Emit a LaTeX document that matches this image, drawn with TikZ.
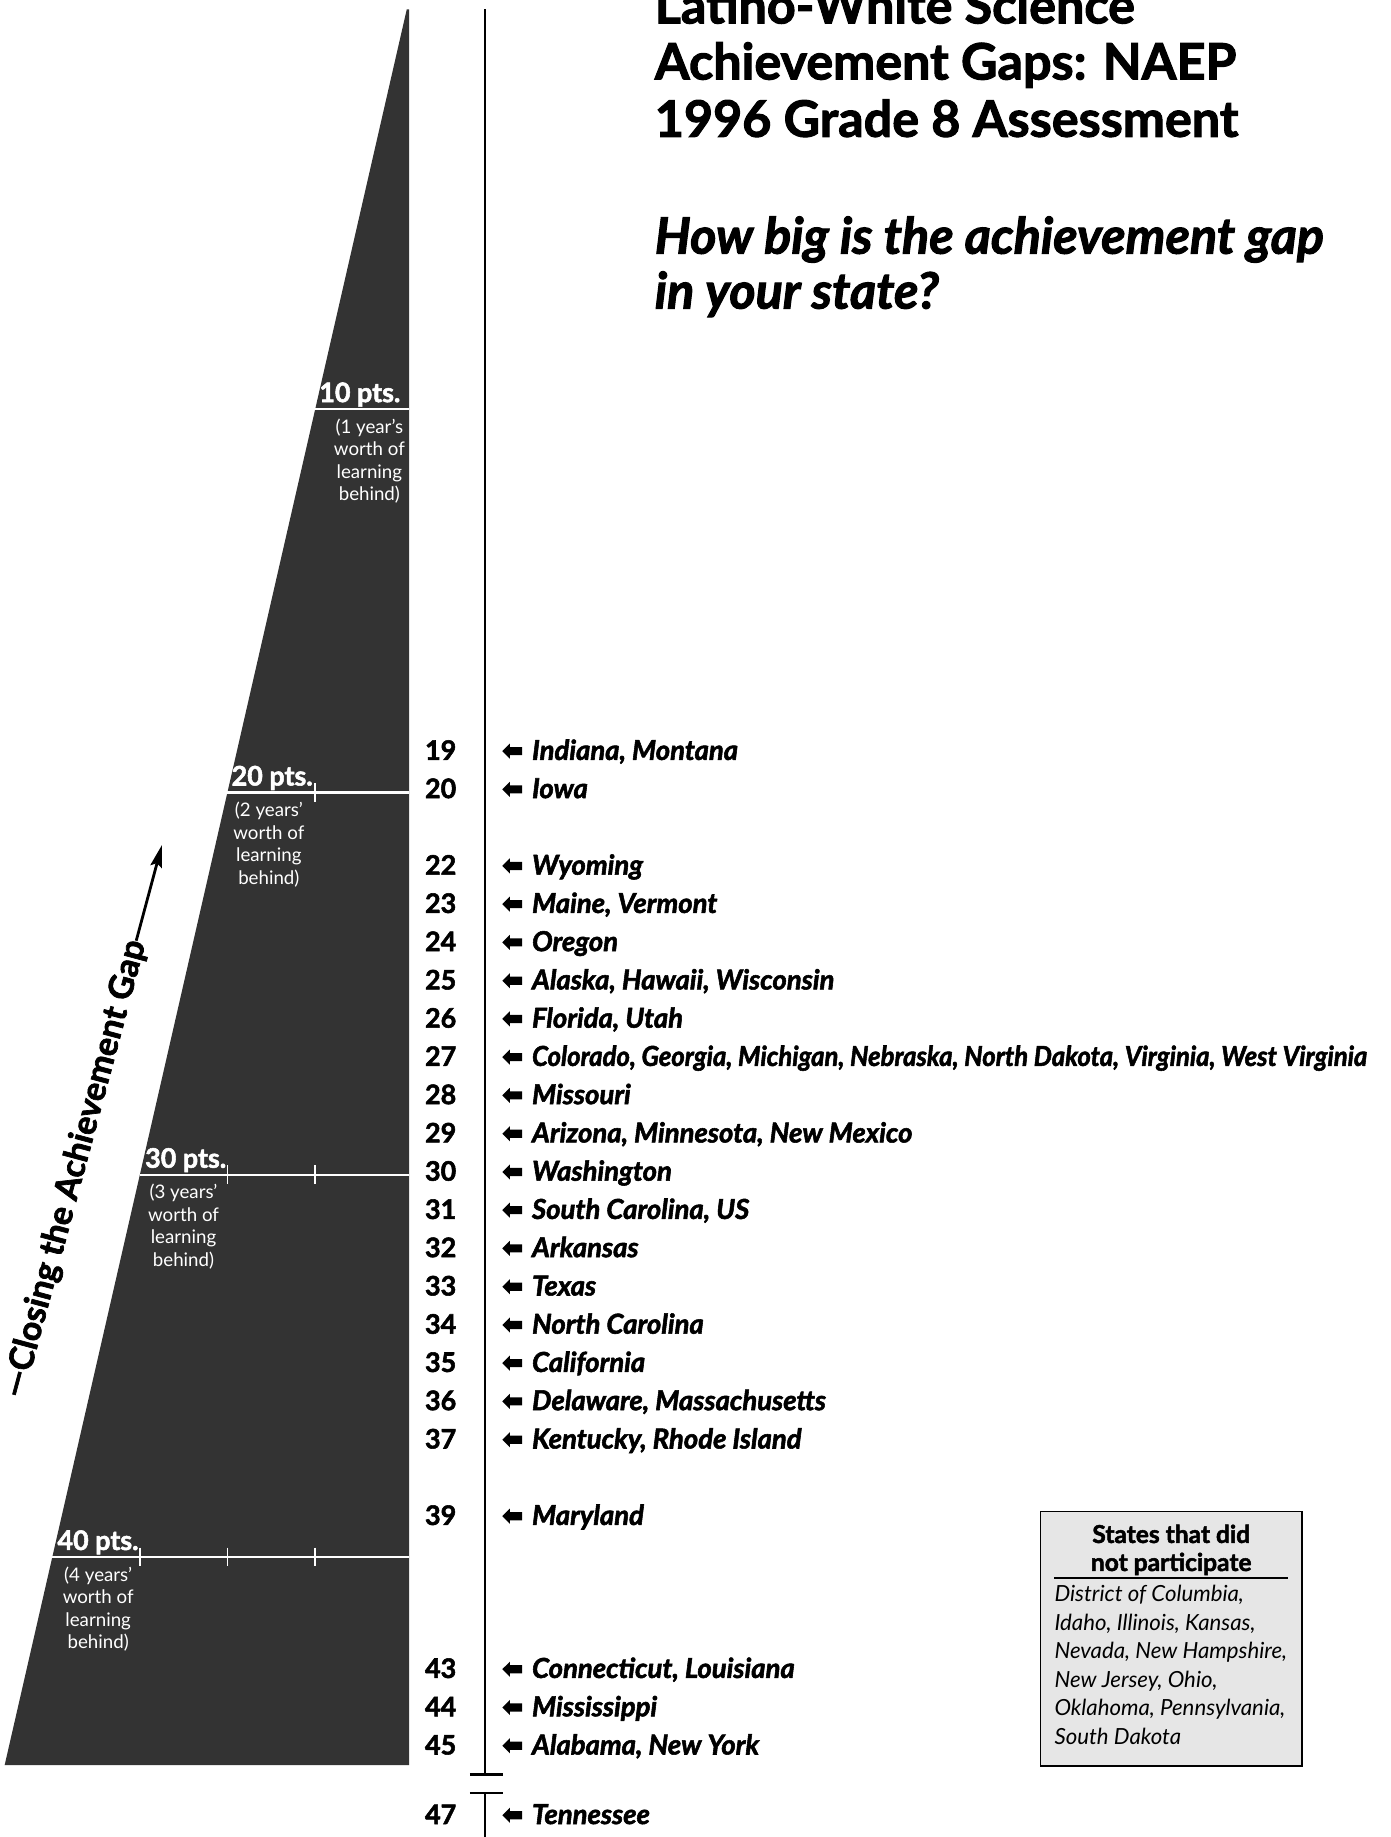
\documentclass[tikz,border=0pt]{standalone}
\usepackage{fontspec}
\setmainfont{Lato}[BoldFeatures={FakeBold=2}, BoldItalicFeatures={FakeBold=2}]
\usepackage{tikz}
\usetikzlibrary{positioning}
\usetikzlibrary{shapes.arrows, arrows.meta}
\definecolor{wedge}{HTML}{333333}
\definecolor{boxgray}{HTML}{E6E6E6}
\tikzstyle{num} = [anchor=base, inner sep=0pt, font=\fontsize{23}{26}\selectfont\bfseries]
\tikzstyle{state} = [anchor=base west, inner sep=0pt, font=\fontsize{23.5}{26}\selectfont\bfseries\itshape]
\tikzstyle{ptr} = [single arrow, shape border rotate=180, fill=black, inner xsep=0pt, inner ysep=3.3pt, minimum height=17pt, single arrow head extend=3pt]
\tikzstyle{pts} = [anchor=base west, inner sep=0pt, text=white, font=\fontsize{23}{26}\selectfont\bfseries]
\tikzstyle{behind} = [anchor=north, inner sep=0pt, align=center, text=white, font=\fontsize{16}{19.3}\selectfont]
\tikzstyle{level} = [white, line width=1.8pt]
\tikzstyle{tick} = [white, line width=1.6pt]
\tikzstyle{axis} = [black, line width=2.2pt]
\tikzstyle{title} = [anchor=base west, inner sep=0pt, font=\fontsize{43}{48}\selectfont\bfseries]
\tikzstyle{ask} = [anchor=base west, inner sep=0pt, font=\fontsize{43}{48}\selectfont\bfseries\itshape]
\tikzstyle{hdr} = [anchor=base, inner sep=0pt, font=\fontsize{21}{24}\selectfont\bfseries]
\tikzstyle{nplist} = [anchor=base west, inner sep=0pt, font=\fontsize{19}{21}\selectfont\itshape]

\begin{document}
\begin{tikzpicture}[x=1pt,y=-1pt]
      \useasboundingbox (0,0) rectangle (1190,1571.6);
      %%%%%%%%%%%%%%%%%%%%%%%%%%%%%%%%%%%%%%%
      % the wedge
      \fill[wedge] (348,8) -- (350,8) -- (350,1510) -- (4,1510) -- cycle;
      \draw[level] (269.7,350) -- (350,350);
      \draw[level] (194.6,678) -- (350,678);
      \draw[level] (119.7,1005) -- (350,1005);
      \draw[level] (44.8,1332) -- (350,1332);
      \draw[tick] (269.7,670) -- (269.7,686);
      \draw[tick] (194.6,997) -- (194.6,1013);
      \draw[tick] (269.7,997) -- (269.7,1013);
      \draw[tick] (119.7,1324) -- (119.7,1340);
      \draw[tick] (194.6,1324) -- (194.6,1340);
      \draw[tick] (269.7,1324) -- (269.7,1340);
      \node[pts] (p10) at (273,344) {10 pts.};
      \node[pts] (p20) at (198,672) {20 pts.};
      \node[pts] (p30) at (124,999) {30 pts.};
      \node[pts] (p40) at (49,1326) {40 pts.};
      \node[behind] (b10) at (316,358) {(1 year’s\\worth of\\learning\\behind)};
      \node[behind] (b20) at (230,686) {(2 years’\\worth of\\learning\\behind)};
      \node[behind] (b30) at (157,1013) {(3 years’\\worth of\\learning\\behind)};
      \node[behind] (b40) at (84,1340) {(4 years’\\worth of\\learning\\behind)};
      % closing the gap
      \node[anchor=west, inner sep=0pt, rotate=75, font=\fontsize{29}{32}\selectfont\bfseries] (gap) at (12,1195) {—Closing the Achievement Gap};
      \coordinate (gaptip) at (138.5,723);
      \draw[line width=2.4pt, -{Stealth[length=19pt,width=10pt,inset=3pt]}] (gap.east) -- (gaptip);
      %%%%%%%%%%%%%%%%%%%%%%%%%%%%%%%%%%%%%%%
      % the axis
      \coordinate (axtop) at (415,8);
      \coordinate (axbrk) at (415,1518);
      \coordinate (axres) at (415,1534);
      \coordinate (axbot) at (415,1571.6);
      \draw[axis] (axtop) -- (axbrk);
      \draw[axis] (axres) -- (axbot);
      \draw[axis] (402,1518) -- (430,1518);
      \draw[axis] (402,1534) -- (430,1534);
      % title
      \node[title] (t1) at (560,20) {Latino-White Science};
      \node[title] (t2) at (560,68) {Achievement Gaps: NAEP};
      \node[title] (t3) at (560,117) {1996 Grade 8 Assessment};
      \node[ask] (q1) at (560,217) {How big is the achievement gap};
      \node[ask] (q2) at (560,264) {in your state?};
      %%%%%%%%%%%%%%%%%%%%%%%%%%%%%%%%%%%%%%%
      % the states
      \node[num] (n19) at (377,650.1) {19};
      \node[ptr] (a19) at (440,642.6) {};
      \node[state] (s19) at (455,650.1) {Indiana, Montana};
      \node[num] (n20) at (377,682.8) {20};
      \node[ptr] (a20) at (440,675.3) {};
      \node[state] (s20) at (455,682.8) {Iowa};
      \node[num] (n22) at (377,748.3) {22};
      \node[ptr] (a22) at (440,740.8) {};
      \node[state] (s22) at (455,748.3) {Wyoming};
      \node[num] (n23) at (377,781) {23};
      \node[ptr] (a23) at (440,773.5) {};
      \node[state] (s23) at (455,781) {Maine, Vermont};
      \node[num] (n24) at (377,813.7) {24};
      \node[ptr] (a24) at (440,806.2) {};
      \node[state] (s24) at (455,813.7) {Oregon};
      \node[num] (n25) at (377,846.5) {25};
      \node[ptr] (a25) at (440,839) {};
      \node[state] (s25) at (455,846.5) {Alaska, Hawaii, Wisconsin};
      \node[num] (n26) at (377,879.2) {26};
      \node[ptr] (a26) at (440,871.7) {};
      \node[state] (s26) at (455,879.2) {Florida, Utah};
      \node[num] (n27) at (377,911.9) {27};
      \node[ptr] (a27) at (440,904.4) {};
      \node[state] (s27) at (455,911.9) {\scalebox{0.935}[1]{Colorado, Georgia, Michigan, Nebraska, North Dakota, Virginia, West Virginia}};
      \node[num] (n28) at (377,944.6) {28};
      \node[ptr] (a28) at (440,937.1) {};
      \node[state] (s28) at (455,944.6) {Missouri};
      \node[num] (n29) at (377,977.4) {29};
      \node[ptr] (a29) at (440,969.9) {};
      \node[state] (s29) at (455,977.4) {Arizona, Minnesota, New Mexico};
      \node[num] (n30) at (377,1010.1) {30};
      \node[ptr] (a30) at (440,1002.6) {};
      \node[state] (s30) at (455,1010.1) {Washington};
      \node[num] (n31) at (377,1042.8) {31};
      \node[ptr] (a31) at (440,1035.3) {};
      \node[state] (s31) at (455,1042.8) {South Carolina, US};
      \node[num] (n32) at (377,1075.5) {32};
      \node[ptr] (a32) at (440,1068) {};
      \node[state] (s32) at (455,1075.5) {Arkansas};
      \node[num] (n33) at (377,1108.3) {33};
      \node[ptr] (a33) at (440,1100.8) {};
      \node[state] (s33) at (455,1108.3) {Texas};
      \node[num] (n34) at (377,1141) {34};
      \node[ptr] (a34) at (440,1133.5) {};
      \node[state] (s34) at (455,1141) {North Carolina};
      \node[num] (n35) at (377,1173.7) {35};
      \node[ptr] (a35) at (440,1166.2) {};
      \node[state] (s35) at (455,1173.7) {California};
      \node[num] (n36) at (377,1206.4) {36};
      \node[ptr] (a36) at (440,1198.9) {};
      \node[state] (s36) at (455,1206.4) {Delaware, Massachusetts};
      \node[num] (n37) at (377,1239.2) {37};
      \node[ptr] (a37) at (440,1231.7) {};
      \node[state] (s37) at (455,1239.2) {Kentucky, Rhode Island};
      \node[num] (n39) at (377,1304.6) {39};
      \node[ptr] (a39) at (440,1297.1) {};
      \node[state] (s39) at (455,1304.6) {Maryland};
      \node[num] (n43) at (377,1435.5) {43};
      \node[ptr] (a43) at (440,1428) {};
      \node[state] (s43) at (455,1435.5) {Connecticut, Louisiana};
      \node[num] (n44) at (377,1468.3) {44};
      \node[ptr] (a44) at (440,1460.8) {};
      \node[state] (s44) at (455,1468.3) {Mississippi};
      \node[num] (n45) at (377,1501) {45};
      \node[ptr] (a45) at (440,1493.5) {};
      \node[state] (s45) at (455,1501) {Alabama, New York};
      \node[num] (n47) at (377,1560.5) {47};
      \node[ptr] (a47) at (440,1553) {};
      \node[state] (s47) at (455,1560.5) {Tennessee};
      %%%%%%%%%%%%%%%%%%%%%%%%%%%%%%%%%%%%%%%
      % did not participate
      \node[draw, line width=1.2pt, fill=boxgray, minimum width=224pt, minimum height=218pt, inner sep=0pt] (nopart) at (1002,1402) {};
      \node[hdr] (h1) at (1002,1320) {States that did};
      \node[hdr] (h2) at (1002,1344) {not participate};
      \draw[line width=2pt] (902,1350) -- (1102,1350);
      \node[nplist] (l1) at (902,1370) {District of Columbia,};
      \node[nplist] (l2) at (902,1394.5) {Idaho, Illinois, Kansas,};
      \node[nplist] (l3) at (902,1419) {Nevada, New Hampshire,};
      \node[nplist] (l4) at (902,1443.5) {New Jersey, Ohio,};
      \node[nplist] (l5) at (902,1468) {Oklahoma, Pennsylvania,};
      \node[nplist] (l6) at (902,1492.5) {South Dakota};
\end{tikzpicture}
\end{document}
